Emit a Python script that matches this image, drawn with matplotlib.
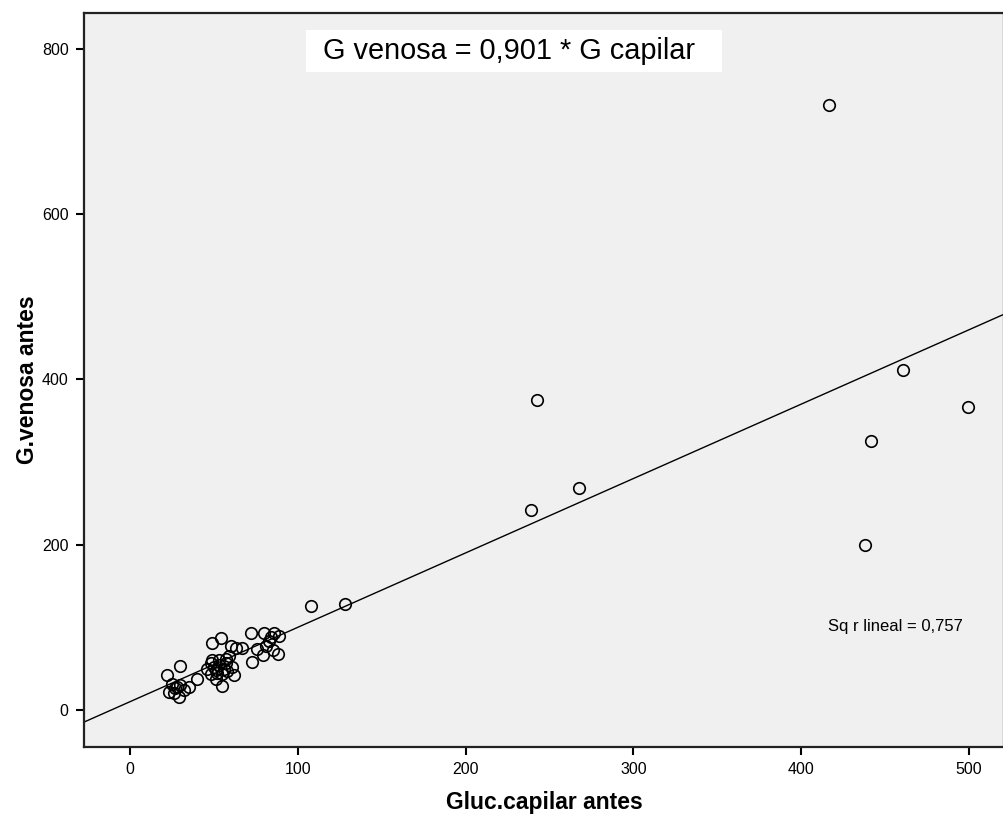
import matplotlib
matplotlib.use("Agg")
import matplotlib.pyplot as plt
from matplotlib.patches import Rectangle

plt.rcParams['font.family'] = ['Liberation Sans', 'DejaVu Sans']

# Data: capillary glucose (x) vs venous glucose (y)
gluc_capilar = [
    416.7, 460.7, 499.4, 441.7, 438.0, 242.3, 239.3, 267.9, 107.7, 128.0,
    30, 22, 28, 23, 29, 35, 40, 25, 32, 27, 30, 26,
    49, 54, 60, 67, 63, 48, 53, 57, 51, 48, 55, 61, 62, 55, 51, 59, 46, 50,
    53, 56, 52, 57, 49, 58,
    72, 80, 86, 89, 83, 81, 85, 88, 73, 79, 76, 84,
]
g_venosa = [
    732, 411.6, 366.8, 325.7, 199.8, 375, 242, 268.8, 125.9, 128.3,
    53, 42, 28, 22, 16, 28, 37, 32, 24, 26, 30, 20,
    81, 87, 77, 75, 75, 57, 61, 57, 48, 44, 44, 52, 42, 29, 38, 65, 50, 52,
    55, 50, 45, 62, 60, 47,
    93, 93, 93, 89, 83, 77, 73, 68, 58, 67, 74, 88,
]

fit_intercept = 10.0
fit_slope = 0.90
equation_text = "G venosa = 0,901 * G capilar"
r2_text = "Sq r lineal = 0,757"
x_ticks = [0, 100, 200, 300, 400, 500]
y_ticks = [0, 200, 400, 600, 800]
x_label = "Gluc.capilar antes"
y_label = "G.venosa antes"

fig = plt.figure(figsize=(10.04, 8.14), dpi=100)
ax = fig.add_axes([84/1004, 67/814, 920/1004, 734/814])
ax.set_facecolor('#f0f0f0')

xmin, xmax = -27.4, 520.9
ymin, ymax = -44.8, 843.3
ax.set_xlim(xmin, xmax)
ax.set_ylim(ymin, ymax)

ax.plot(gluc_capilar, g_venosa, linestyle='none', marker='o', markersize=8.3,
        markerfacecolor='none', markeredgecolor='black', markeredgewidth=1.2, zorder=3)

lx = [xmin, xmax]
ly = [fit_intercept + fit_slope * v for v in lx]
ax.plot(lx, ly, color='black', linewidth=1.0, zorder=2)

ax.set_xticks(x_ticks)
ax.set_yticks(y_ticks)
ax.tick_params(direction='out', length=6, width=1.5, pad=5, labelsize=11.5, colors='black')
for s in ax.spines.values():
    s.set_linewidth(1.6)
    s.set_color('#222222')

ax.set_xlabel(x_label, fontsize=16.5, fontweight='bold', labelpad=10)
ax.set_ylabel(y_label, fontsize=16.5, fontweight='bold', labelpad=2)

# equation box
ax.add_patch(Rectangle((0.2413, 0.9196), 0.4522, 0.0572, transform=ax.transAxes,
                       facecolor='white', edgecolor='none', zorder=4))
ax.text(0.2598, 0.948, equation_text, transform=ax.transAxes, fontsize=20.8,
        ha='left', va='center', color='black', zorder=5)

ax.text(0.8087, 0.1635, r2_text, transform=ax.transAxes, fontsize=12,
        ha='left', va='center', color='black', zorder=5)

fig.savefig('out.png', dpi=100, facecolor='white')
